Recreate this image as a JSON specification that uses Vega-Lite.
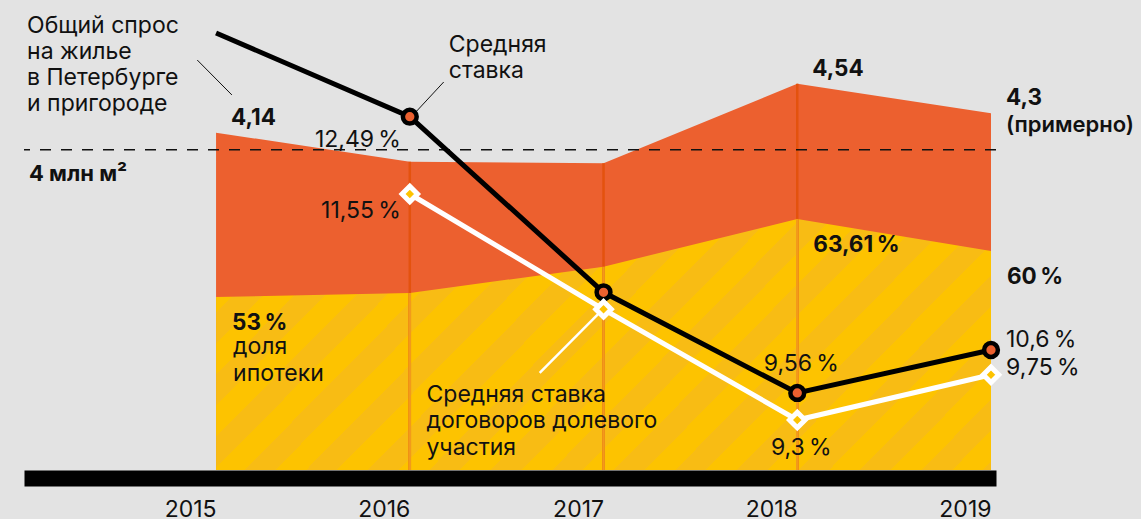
{
  "$schema": "https://vega.github.io/schema/vega-lite/v6.json",
  "width": 972,
  "height": 470,
  "autosize": {"type": "none"},
  "padding": {"left": 24, "top": 0, "right": 145, "bottom": 49},
  "background": "#e3e3e3",
  "config": {"view": {"stroke": null}},
  "datasets": {
    "demand": [
      {"year": 2015, "total": 4.14, "ipoteka": 2.795, "totalLabel": "4,14", "shareLabel": "53\u2009%"},
      {"year": 2016, "total": 3.903, "ipoteka": 2.828},
      {"year": 2017, "total": 3.889, "ipoteka": 3.043},
      {"year": 2018, "total": 4.54, "ipoteka": 3.434, "totalLabel": "4,54", "shareLabel": "63,61\u2009%"},
      {"year": 2019, "total": 4.3, "ipoteka": 3.171, "totalLabel": "4,3", "shareLabel": "60\u2009%"}
    ],
    "rates": [
      {"year": 2015, "series": "avg", "rate": 13.153},
      {"year": 2016, "series": "avg", "rate": 12.32, "label": "12,49\u2009%"},
      {"year": 2017, "series": "avg", "rate": 10.571},
      {"year": 2018, "series": "avg", "rate": 9.569, "label": "9,56\u2009%"},
      {"year": 2019, "series": "avg", "rate": 9.997, "label": "10,6\u2009%"},
      {"year": 2016, "series": "ddu", "rate": 11.55, "label": "11,55\u2009%"},
      {"year": 2017, "series": "ddu", "rate": 10.402},
      {"year": 2018, "series": "ddu", "rate": 9.3, "label": "9,3\u2009%"},
      {"year": 2019, "series": "ddu", "rate": 9.75, "label": "9,75\u2009%"}
    ],
    "ref": [{"level": 4, "label": "4 млн м²"}],
    "one": [{}]
  },
  "resolve": {"scale": {"y": "independent"}},
  "layer": [
    {
      "data": {"name": "demand"},
      "mark": {"type": "area", "color": "#ec602f", "interpolate": "linear"},
      "encoding": {
        "x": {"field": "year", "type": "quantitative", "scale": {"domain": [2014.0345, 2019], "nice": false, "zero": false},
          "axis": {"values": [2015, 2016, 2017, 2018, 2019], "format": "d", "title": null, "grid": false, "ticks": false, "tickSize": 0,
            "domainWidth": 16, "domainColor": "#000000", "domainCap": "butt", "offset": 8,
            "labelAlign": "right", "labelBaseline": "alphabetic", "labelPadding": 38, "labelFont": "Inter", "labelFontSize": 23,
            "labelColor": "#111111", "labelFlush": false, "labelOverlap": false, "labelBound": false}},
        "y": {"field": "total", "type": "quantitative", "scale": {"domain": [1.3786, 5.2264], "nice": false, "zero": false}, "axis": null},
        "y2": {"datum": 1.3786}
      }
    },
    {
      "data": {"name": "demand"},
      "mark": {"type": "area", "interpolate": "linear", "color": {"gradient": "linear", "x1": 0, "y1": 0, "x2": 1.2, "y2": 0.3847, "stops": [
        {"offset": 0, "color": "#fdc300"}, {"offset": 0.03, "color": "#fdc300"}, {"offset": 0.03, "color": "#f8bc14"}, {"offset": 0.06, "color": "#f8bc14"},
        {"offset": 0.06, "color": "#fdc300"}, {"offset": 0.09, "color": "#fdc300"}, {"offset": 0.09, "color": "#f8bc14"}, {"offset": 0.12, "color": "#f8bc14"},
        {"offset": 0.12, "color": "#fdc300"}, {"offset": 0.15, "color": "#fdc300"}, {"offset": 0.15, "color": "#f8bc14"}, {"offset": 0.18, "color": "#f8bc14"},
        {"offset": 0.18, "color": "#fdc300"}, {"offset": 0.21, "color": "#fdc300"}, {"offset": 0.21, "color": "#f8bc14"}, {"offset": 0.24, "color": "#f8bc14"},
        {"offset": 0.24, "color": "#fdc300"}, {"offset": 0.27, "color": "#fdc300"}, {"offset": 0.27, "color": "#f8bc14"}, {"offset": 0.30, "color": "#f8bc14"},
        {"offset": 0.30, "color": "#fdc300"}, {"offset": 0.33, "color": "#fdc300"}, {"offset": 0.33, "color": "#f8bc14"}, {"offset": 0.36, "color": "#f8bc14"},
        {"offset": 0.36, "color": "#fdc300"}, {"offset": 0.39, "color": "#fdc300"}, {"offset": 0.39, "color": "#f8bc14"}, {"offset": 0.42, "color": "#f8bc14"},
        {"offset": 0.42, "color": "#fdc300"}, {"offset": 0.45, "color": "#fdc300"}, {"offset": 0.45, "color": "#f8bc14"}, {"offset": 0.48, "color": "#f8bc14"},
        {"offset": 0.48, "color": "#fdc300"}, {"offset": 0.51, "color": "#fdc300"}, {"offset": 0.51, "color": "#f8bc14"}, {"offset": 0.54, "color": "#f8bc14"},
        {"offset": 0.54, "color": "#fdc300"}, {"offset": 0.57, "color": "#fdc300"}, {"offset": 0.57, "color": "#f8bc14"}, {"offset": 0.60, "color": "#f8bc14"},
        {"offset": 0.60, "color": "#fdc300"}, {"offset": 0.63, "color": "#fdc300"}, {"offset": 0.63, "color": "#f8bc14"}, {"offset": 0.66, "color": "#f8bc14"},
        {"offset": 0.66, "color": "#fdc300"}, {"offset": 0.69, "color": "#fdc300"}, {"offset": 0.69, "color": "#f8bc14"}, {"offset": 0.72, "color": "#f8bc14"},
        {"offset": 0.72, "color": "#fdc300"}, {"offset": 0.75, "color": "#fdc300"}, {"offset": 0.75, "color": "#f8bc14"}, {"offset": 0.78, "color": "#f8bc14"},
        {"offset": 0.78, "color": "#fdc300"}, {"offset": 0.81, "color": "#fdc300"}, {"offset": 0.81, "color": "#f8bc14"}, {"offset": 0.84, "color": "#f8bc14"},
        {"offset": 0.84, "color": "#fdc300"}, {"offset": 0.87, "color": "#fdc300"}, {"offset": 0.87, "color": "#f8bc14"}, {"offset": 0.90, "color": "#f8bc14"},
        {"offset": 0.90, "color": "#fdc300"}, {"offset": 0.93, "color": "#fdc300"}, {"offset": 0.93, "color": "#f8bc14"}, {"offset": 0.96, "color": "#f8bc14"},
        {"offset": 0.96, "color": "#fdc300"}, {"offset": 0.99, "color": "#fdc300"}, {"offset": 0.99, "color": "#f8bc14"}, {"offset": 1, "color": "#f8bc14"}
      ]}},
      "encoding": {
        "x": {"field": "year", "type": "quantitative", "scale": {"domain": [2014.0345, 2019], "nice": false, "zero": false}},
        "y": {"field": "ipoteka", "type": "quantitative", "scale": {"domain": [1.3786, 5.2264], "nice": false, "zero": false}, "axis": null},
        "y2": {"datum": 1.3786}
      }
    },
    {
      "data": {"name": "demand"},
      "transform": [{"filter": "datum.year > 2015 && datum.year < 2019"}],
      "mark": {"type": "bar", "orient": "vertical", "color": "#e4520e", "size": 2.5},
      "encoding": {
        "x": {"field": "year", "type": "quantitative", "scale": {"domain": [2014.0345, 2019], "nice": false, "zero": false}},
        "y": {"field": "total", "type": "quantitative", "scale": {"domain": [1.3786, 5.2264], "nice": false, "zero": false}, "axis": null},
        "y2": {"datum": 1.3786}
      }
    },
    {
      "data": {"name": "demand"},
      "transform": [{"filter": "datum.year > 2015 && datum.year < 2019"}],
      "mark": {"type": "bar", "orient": "vertical", "color": "#f29a1b", "size": 2.5},
      "encoding": {
        "x": {"field": "year", "type": "quantitative", "scale": {"domain": [2014.0345, 2019], "nice": false, "zero": false}},
        "y": {"field": "ipoteka", "type": "quantitative", "scale": {"domain": [1.3786, 5.2264], "nice": false, "zero": false}, "axis": null},
        "y2": {"datum": 1.3786}
      }
    },
    {
      "data": {"name": "ref"},
      "mark": {"type": "rule", "strokeDash": [11, 10], "strokeWidth": 1.5, "color": "#111111"},
      "encoding": {
        "y": {"field": "level", "type": "quantitative", "scale": {"domain": [1.3786, 5.2264], "nice": false, "zero": false}, "axis": null}
      }
    },
    {
      "data": {"name": "one"},
      "mark": {"type": "rule", "strokeWidth": 1, "color": "#111111"},
      "encoding": {
        "x": {"datum": 2014.903, "type": "quantitative", "scale": {"domain": [2014.0345, 2019], "nice": false, "zero": false}},
        "x2": {"datum": 2015.0818},
        "y": {"datum": 4.735, "type": "quantitative", "scale": {"domain": [1.3786, 5.2264], "nice": false, "zero": false}, "axis": null},
        "y2": {"datum": 4.449}
      }
    },
    {
      "data": {"name": "rates"},
      "transform": [{"filter": "datum.series == 'avg'"}],
      "mark": {"type": "line", "color": "#000000", "strokeWidth": 5},
      "encoding": {
        "x": {"field": "year", "type": "quantitative", "scale": {"domain": [2014.0345, 2019], "nice": false, "zero": false}},
        "y": {"field": "rate", "type": "quantitative", "scale": {"domain": [8.8021, 13.4815], "nice": false, "zero": false}, "axis": null}
      }
    },
    {
      "data": {"name": "one"},
      "mark": {"type": "rule", "strokeWidth": 1, "color": "#111111"},
      "encoding": {
        "x": {"datum": 2016.175, "type": "quantitative", "scale": {"domain": [2014.0345, 2019], "nice": false, "zero": false}},
        "x2": {"datum": 2016.017},
        "y": {"datum": 12.665, "type": "quantitative", "scale": {"domain": [8.8021, 13.4815], "nice": false, "zero": false}, "axis": null},
        "y2": {"datum": 12.337}
      }
    },
    {
      "data": {"name": "rates"},
      "transform": [{"filter": "datum.series == 'avg' && datum.year >= 2016"}],
      "mark": {"type": "point", "shape": "circle", "filled": true, "fill": "#ec602f", "stroke": "#000000", "strokeWidth": 4.5, "size": 190, "opacity": 1},
      "encoding": {
        "x": {"field": "year", "type": "quantitative", "scale": {"domain": [2014.0345, 2019], "nice": false, "zero": false}},
        "y": {"field": "rate", "type": "quantitative", "scale": {"domain": [8.8021, 13.4815], "nice": false, "zero": false}, "axis": null}
      }
    },
    {
      "data": {"name": "rates"},
      "transform": [{"filter": "datum.series == 'ddu'"}],
      "mark": {"type": "line", "color": "#ffffff", "strokeWidth": 5},
      "encoding": {
        "x": {"field": "year", "type": "quantitative", "scale": {"domain": [2014.0345, 2019], "nice": false, "zero": false}},
        "y": {"field": "rate", "type": "quantitative", "scale": {"domain": [8.8021, 13.4815], "nice": false, "zero": false}, "axis": null}
      }
    },
    {
      "data": {"name": "one"},
      "mark": {"type": "rule", "strokeWidth": 2.5, "color": "#ffffff"},
      "encoding": {
        "x": {"datum": 2016.977, "type": "quantitative", "scale": {"domain": [2014.0345, 2019], "nice": false, "zero": false}},
        "x2": {"datum": 2016.6705},
        "y": {"datum": 10.365, "type": "quantitative", "scale": {"domain": [8.8021, 13.4815], "nice": false, "zero": false}, "axis": null},
        "y2": {"datum": 9.768}
      }
    },
    {
      "data": {"name": "rates"},
      "transform": [{"filter": "datum.series == 'ddu'"}],
      "mark": {"type": "point", "shape": "diamond", "filled": true, "fill": "#fdc300", "stroke": "#ffffff", "strokeWidth": 5, "size": 240, "opacity": 1},
      "encoding": {
        "x": {"field": "year", "type": "quantitative", "scale": {"domain": [2014.0345, 2019], "nice": false, "zero": false}},
        "y": {"field": "rate", "type": "quantitative", "scale": {"domain": [8.8021, 13.4815], "nice": false, "zero": false}, "axis": null}
      }
    },
    {
      "data": {"name": "demand"},
      "transform": [{"filter": "datum.year == 2015"}],
      "mark": {"type": "text", "text": ["Общий спрос", "на жилье", "в Петербурге", "и пригороде"], "font": "Inter", "fontSize": 23, "color": "#111111", "align": "left", "baseline": "alphabetic", "lineHeight": 26, "dx": -189, "dy": -100},
      "encoding": {
        "x": {"field": "year", "type": "quantitative", "scale": {"domain": [2014.0345, 2019], "nice": false, "zero": false}},
        "y": {"field": "total", "type": "quantitative", "scale": {"domain": [1.3786, 5.2264], "nice": false, "zero": false}, "axis": null}
      }
    },
    {
      "data": {"name": "demand"},
      "transform": [{"filter": "isValid(datum.totalLabel)"}],
      "mark": {"type": "text", "font": "Inter", "fontSize": 22.5, "fontWeight": "bold", "color": "#111111", "align": "left", "baseline": "alphabetic", "dx": 15, "dy": -8},
      "encoding": {
        "x": {"field": "year", "type": "quantitative", "scale": {"domain": [2014.0345, 2019], "nice": false, "zero": false}},
        "y": {"field": "total", "type": "quantitative", "scale": {"domain": [1.3786, 5.2264], "nice": false, "zero": false}, "axis": null},
        "text": {"field": "totalLabel"}
      }
    },
    {
      "data": {"name": "demand"},
      "transform": [{"filter": "datum.year == 2019"}],
      "mark": {"type": "text", "text": "(примерно)", "font": "Inter", "fontSize": 22, "fontWeight": 600, "color": "#111111", "align": "left", "baseline": "alphabetic", "dx": 15, "dy": 19},
      "encoding": {
        "x": {"field": "year", "type": "quantitative", "scale": {"domain": [2014.0345, 2019], "nice": false, "zero": false}},
        "y": {"field": "total", "type": "quantitative", "scale": {"domain": [1.3786, 5.2264], "nice": false, "zero": false}, "axis": null}
      }
    },
    {
      "data": {"name": "demand"},
      "transform": [{"filter": "isValid(datum.shareLabel)"}],
      "mark": {"type": "text", "font": "Inter", "fontSize": 22.5, "fontWeight": "bold", "color": "#111111", "align": "left", "baseline": "alphabetic", "dx": 16, "dy": 33},
      "encoding": {
        "x": {"field": "year", "type": "quantitative", "scale": {"domain": [2014.0345, 2019], "nice": false, "zero": false}},
        "y": {"field": "ipoteka", "type": "quantitative", "scale": {"domain": [1.3786, 5.2264], "nice": false, "zero": false}, "axis": null},
        "text": {"field": "shareLabel"}
      }
    },
    {
      "data": {"name": "demand"},
      "transform": [{"filter": "datum.year == 2015"}],
      "mark": {"type": "text", "text": ["доля", "ипотеки"], "font": "Inter", "fontSize": 23, "color": "#111111", "align": "left", "baseline": "alphabetic", "lineHeight": 27, "dx": 17, "dy": 57},
      "encoding": {
        "x": {"field": "year", "type": "quantitative", "scale": {"domain": [2014.0345, 2019], "nice": false, "zero": false}},
        "y": {"field": "ipoteka", "type": "quantitative", "scale": {"domain": [1.3786, 5.2264], "nice": false, "zero": false}, "axis": null}
      }
    },
    {
      "data": {"name": "ref"},
      "mark": {"type": "text", "font": "Inter", "fontSize": 22, "fontWeight": "bold", "color": "#111111", "align": "left", "baseline": "alphabetic", "dy": 31},
      "encoding": {
        "x": {"datum": 2014.0345, "type": "quantitative", "scale": {"domain": [2014.0345, 2019], "nice": false, "zero": false}},
        "y": {"field": "level", "type": "quantitative", "scale": {"domain": [1.3786, 5.2264], "nice": false, "zero": false}, "axis": null},
        "text": {"field": "label"}
      }
    },
    {
      "data": {"name": "rates"},
      "transform": [{"filter": "datum.series == 'avg' && datum.year == 2016"}],
      "mark": {"type": "text", "text": ["Средняя", "ставка"], "font": "Inter", "fontSize": 23, "color": "#111111", "align": "left", "baseline": "alphabetic", "lineHeight": 26, "dx": 39, "dy": -65},
      "encoding": {
        "x": {"field": "year", "type": "quantitative", "scale": {"domain": [2014.0345, 2019], "nice": false, "zero": false}},
        "y": {"field": "rate", "type": "quantitative", "scale": {"domain": [8.8021, 13.4815], "nice": false, "zero": false}, "axis": null}
      }
    },
    {
      "data": {"name": "rates"},
      "transform": [{"filter": "datum.series == 'ddu' && datum.year == 2017"}],
      "mark": {"type": "text", "text": ["Средняя ставка", "договоров долевого", "участия"], "font": "Inter", "fontSize": 23, "color": "#111111", "align": "left", "baseline": "alphabetic", "lineHeight": 26.5, "dx": -177, "dy": 92.5},
      "encoding": {
        "x": {"field": "year", "type": "quantitative", "scale": {"domain": [2014.0345, 2019], "nice": false, "zero": false}},
        "y": {"field": "rate", "type": "quantitative", "scale": {"domain": [8.8021, 13.4815], "nice": false, "zero": false}, "axis": null}
      }
    },
    {
      "data": {"name": "rates"},
      "transform": [{"filter": "datum.series == 'avg' && datum.year == 2016"}],
      "mark": {"type": "text", "font": "Inter", "fontSize": 23, "color": "#111111", "align": "right", "baseline": "alphabetic", "dx": -9, "dy": 30},
      "encoding": {
        "x": {"field": "year", "type": "quantitative", "scale": {"domain": [2014.0345, 2019], "nice": false, "zero": false}},
        "y": {"field": "rate", "type": "quantitative", "scale": {"domain": [8.8021, 13.4815], "nice": false, "zero": false}, "axis": null},
        "text": {"field": "label"}
      }
    },
    {
      "data": {"name": "rates"},
      "transform": [{"filter": "datum.series == 'ddu' && datum.year == 2016"}],
      "mark": {"type": "text", "font": "Inter", "fontSize": 23, "color": "#111111", "align": "right", "baseline": "alphabetic", "dx": -9, "dy": 24},
      "encoding": {
        "x": {"field": "year", "type": "quantitative", "scale": {"domain": [2014.0345, 2019], "nice": false, "zero": false}},
        "y": {"field": "rate", "type": "quantitative", "scale": {"domain": [8.8021, 13.4815], "nice": false, "zero": false}, "axis": null},
        "text": {"field": "label"}
      }
    },
    {
      "data": {"name": "rates"},
      "transform": [{"filter": "datum.series == 'avg' && datum.year == 2018"}],
      "mark": {"type": "text", "font": "Inter", "fontSize": 23, "color": "#111111", "align": "center", "baseline": "alphabetic", "dx": 4, "dy": -22},
      "encoding": {
        "x": {"field": "year", "type": "quantitative", "scale": {"domain": [2014.0345, 2019], "nice": false, "zero": false}},
        "y": {"field": "rate", "type": "quantitative", "scale": {"domain": [8.8021, 13.4815], "nice": false, "zero": false}, "axis": null},
        "text": {"field": "label"}
      }
    },
    {
      "data": {"name": "rates"},
      "transform": [{"filter": "datum.series == 'ddu' && datum.year == 2018"}],
      "mark": {"type": "text", "font": "Inter", "fontSize": 23, "color": "#111111", "align": "center", "baseline": "alphabetic", "dx": 4, "dy": 35},
      "encoding": {
        "x": {"field": "year", "type": "quantitative", "scale": {"domain": [2014.0345, 2019], "nice": false, "zero": false}},
        "y": {"field": "rate", "type": "quantitative", "scale": {"domain": [8.8021, 13.4815], "nice": false, "zero": false}, "axis": null},
        "text": {"field": "label"}
      }
    },
    {
      "data": {"name": "rates"},
      "transform": [{"filter": "datum.series == 'avg' && datum.year == 2019"}],
      "mark": {"type": "text", "font": "Inter", "fontSize": 23, "color": "#111111", "align": "left", "baseline": "alphabetic", "dx": 15, "dy": -3},
      "encoding": {
        "x": {"field": "year", "type": "quantitative", "scale": {"domain": [2014.0345, 2019], "nice": false, "zero": false}},
        "y": {"field": "rate", "type": "quantitative", "scale": {"domain": [8.8021, 13.4815], "nice": false, "zero": false}, "axis": null},
        "text": {"field": "label"}
      }
    },
    {
      "data": {"name": "rates"},
      "transform": [{"filter": "datum.series == 'ddu' && datum.year == 2019"}],
      "mark": {"type": "text", "font": "Inter", "fontSize": 23, "color": "#111111", "align": "left", "baseline": "alphabetic", "dx": 15, "dy": 0},
      "encoding": {
        "x": {"field": "year", "type": "quantitative", "scale": {"domain": [2014.0345, 2019], "nice": false, "zero": false}},
        "y": {"field": "rate", "type": "quantitative", "scale": {"domain": [8.8021, 13.4815], "nice": false, "zero": false}, "axis": null},
        "text": {"field": "label"}
      }
    }
  ]
}
